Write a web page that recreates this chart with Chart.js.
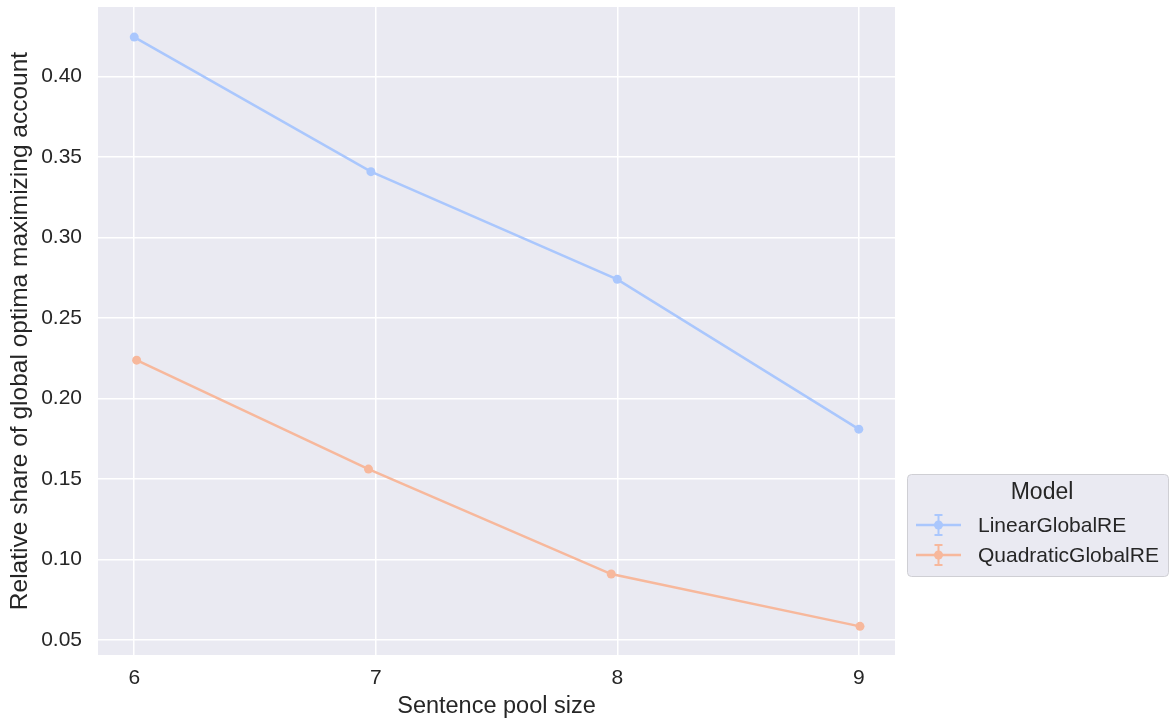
<!DOCTYPE html>
<html>
<head>
<meta charset="utf-8">
<script src="https://cdn.jsdelivr.net/npm/chart.js@4"></script>
<style>
  body { margin: 0; background: #ffffff; }
  #wrap { width: 1170px; height: 723px; }
</style>
</head>
<body>
<div id="wrap"><canvas id="myLineChart" width="1170" height="723"></canvas></div>
<script>
// data
var seriesNames = ["LinearGlobalRE", "QuadraticGlobalRE"];
var linearX = [6.0, 6.98, 8.0, 9.0];
var linearY = [0.4246, 0.3410, 0.2741, 0.1810];
var quadX = [6.01, 6.97, 7.975, 9.005];
var quadY = [0.2239, 0.1562, 0.0910, 0.0585];
var xTicks = [6, 7, 8, 9];
var yTicks = [0.05, 0.10, 0.15, 0.20, 0.25, 0.30, 0.35, 0.40];

var colors = ["#aac7fd", "#f7b89c"];
var textColor = "#262626";
var fontFamily = "'Liberation Sans', Arial, sans-serif";

function toPoints(xs, ys) {
  return xs.map(function (x, i) { return { x: x, y: ys[i] }; });
}

// grey panel behind the plot area
var panelBg = {
  id: "panelBg",
  beforeDraw: function (chart) {
    var a = chart.chartArea, c = chart.ctx;
    c.save();
    c.fillStyle = "#eaeaf2";
    c.fillRect(a.left, a.top, a.right - a.left, a.bottom - a.top);
    c.restore();
  },
};

// seaborn-like legend box outside the plot, with error bar markers
var sideLegend = {
  id: "sideLegend",
  afterDraw: function (chart) {
    var c = chart.ctx;
    var bx = 907, by = 474, bw = 261, bh = 102;
    c.save();
    c.beginPath();
    c.roundRect(bx + 0.5, by + 0.5, bw, bh, 4);
    c.fillStyle = "#eaeaf2";
    c.fill();
    c.strokeStyle = "#cfcfd4";
    c.lineWidth = 1;
    c.stroke();

    c.fillStyle = textColor;
    c.textAlign = "center";
    c.textBaseline = "middle";
    c.font = "23px " + fontFamily;
    c.fillText("Model", 1042, 493);

    chart.data.datasets.forEach(function (ds, i) {
      var y = 525 + i * 30;
      var cx = 938.5;
      c.strokeStyle = ds.borderColor;
      c.fillStyle = ds.borderColor;
      c.lineWidth = 2.5;
      c.beginPath();
      c.moveTo(916, y);
      c.lineTo(961, y);
      c.stroke();
      c.lineWidth = 2;
      c.beginPath();
      c.moveTo(cx, y - 10);
      c.lineTo(cx, y + 10);
      c.moveTo(cx - 4, y - 10);
      c.lineTo(cx + 4, y - 10);
      c.moveTo(cx - 4, y + 10);
      c.lineTo(cx + 4, y + 10);
      c.stroke();
      c.beginPath();
      c.arc(cx, y, 4.5, 0, Math.PI * 2);
      c.fill();

      c.fillStyle = textColor;
      c.textAlign = "left";
      c.font = "21px " + fontFamily;
      c.fillText(ds.label, 978, y + 1);
    });
    c.restore();
  },
};

var ctx = document.getElementById("myLineChart").getContext("2d");
var myLineChart = new Chart(ctx, {
  type: "line",
  data: {
    datasets: [
      {
        label: seriesNames[0],
        data: toPoints(linearX, linearY),
        borderColor: colors[0],
        backgroundColor: colors[0],
        borderWidth: 2.5,
        pointRadius: 4.5,
        pointBorderWidth: 0,
        tension: 0,
      },
      {
        label: seriesNames[1],
        data: toPoints(quadX, quadY),
        borderColor: colors[1],
        backgroundColor: colors[1],
        borderWidth: 2.5,
        pointRadius: 4.5,
        pointBorderWidth: 0,
        tension: 0,
      },
    ],
  },
  options: {
    responsive: false,
    animation: false,
    devicePixelRatio: 1,
    layout: { padding: { top: 7, right: 275, bottom: 0, left: 0 } },
    scales: {
      x: {
        type: "linear",
        min: 5.85,
        max: 9.15,
        afterBuildTicks: function (scale) {
          scale.ticks = xTicks.map(function (v) { return { value: v }; });
        },
        afterFit: function (scale) {
          scale.height = 68;
          scale.paddingLeft = 0;
          scale.paddingRight = 0;
        },
        grid: { color: "#ffffff", lineWidth: 1.5, drawTicks: false },
        border: { display: false },
        ticks: {
          color: textColor,
          font: { family: fontFamily, size: 21 },
          padding: 11,
          maxRotation: 0,
          callback: function (v) { return String(v); },
        },
        title: {
          display: true,
          text: "Sentence pool size",
          color: textColor,
          font: { family: fontFamily, size: 23.5 },
          padding: { top: 0, bottom: 2 },
        },
      },
      y: {
        type: "linear",
        min: 0.0407,
        max: 0.4433,
        afterBuildTicks: function (scale) {
          scale.ticks = yTicks.map(function (v) { return { value: v }; });
        },
        afterFit: function (scale) {
          scale.width = 98;
          scale.paddingTop = 0;
          scale.paddingBottom = 0;
        },
        grid: { color: "#ffffff", lineWidth: 1.5, drawTicks: false },
        border: { display: false },
        ticks: {
          color: textColor,
          font: { family: fontFamily, size: 21 },
          padding: 16,
          callback: function (v) { return Number(v).toFixed(2); },
        },
        title: {
          display: true,
          text: "Relative share of global optima maximizing account",
          color: textColor,
          font: { family: fontFamily, size: 24.5 },
          padding: { top: 6, bottom: 0 },
        },
      },
    },
    plugins: {
      legend: { display: false },
      tooltip: { enabled: false },
    },
  },
  plugins: [panelBg, sideLegend],
});
</script>
</body>
</html>
